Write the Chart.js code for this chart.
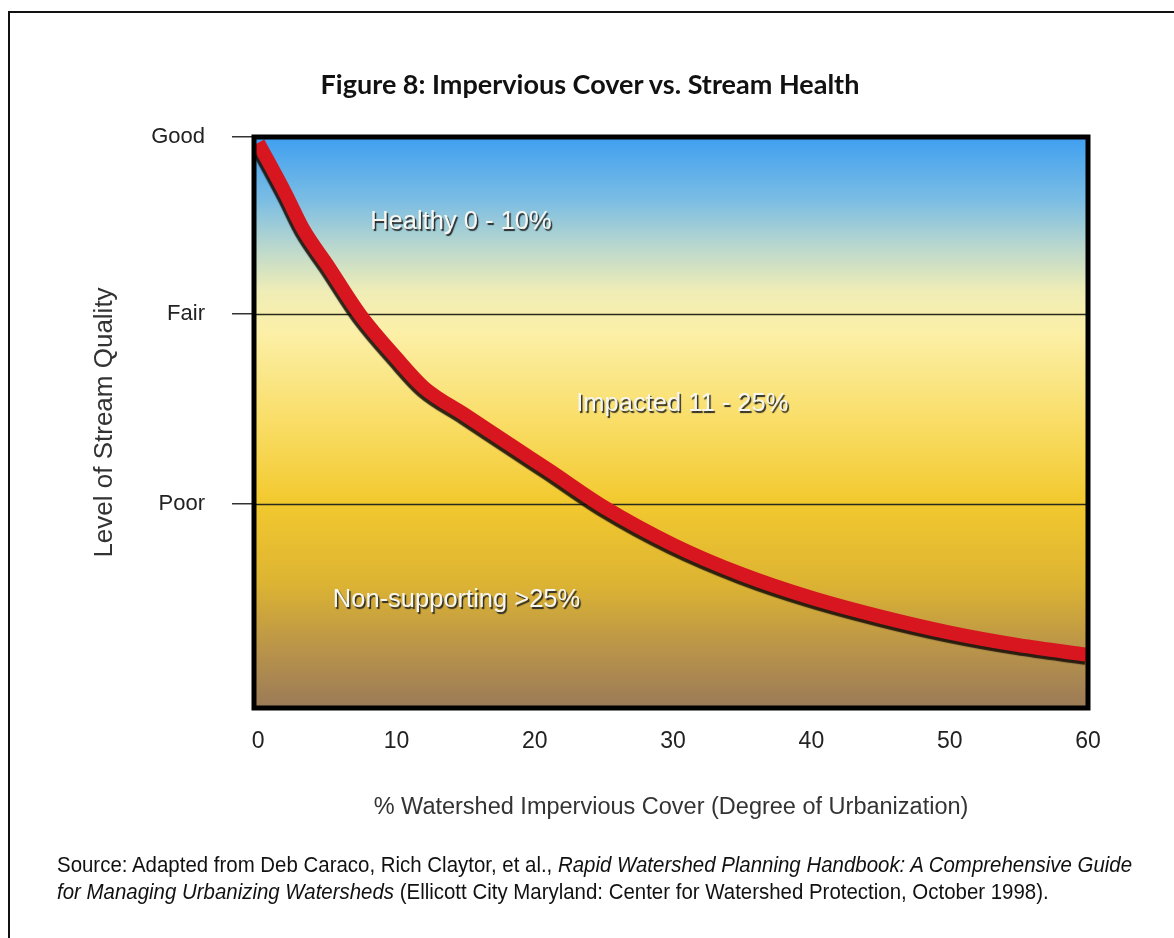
<!DOCTYPE html>
<html>
<head>
<meta charset="utf-8">
<script src="https://cdn.jsdelivr.net/npm/chart.js@4.4.1/dist/chart.umd.min.js"></script>
<style>
  html, body { margin: 0; padding: 0; background: #fff; }
  body { width: 1174px; height: 938px; position: relative; overflow: hidden; }
  #frame { position: absolute; left: 8px; top: 11px; width: 1200px; height: 1000px;
           border-left: 2px solid #111; border-top: 2px solid #111; }
  #title { position: absolute; left: 0; width: 1180px; top: 67px; text-align: center;
           font: bold 27px Lato, "Open Sans", sans-serif; color: #111; }
  #source { position: absolute; left: 57px; top: 851px; white-space: nowrap;
            font: 22px "Liberation Sans", Arial, sans-serif; line-height: 27px; color: #111;
            transform: scaleX(0.929); transform-origin: 0 0; }
  canvas { position: absolute; left: 0; top: 0; }
</style>
</head>
<body>
<div id="frame"></div>
<canvas id="streamChart" width="1174" height="938"></canvas>
<div id="title">Figure 8: Impervious Cover vs. Stream Health</div>
<div id="source">Source: Adapted from Deb Caraco, Rich Claytor, et al., <i>Rapid Watershed Planning Handbook: A Comprehensive Guide</i><br><i>for Managing Urbanizing Watersheds</i> (Ellicott City Maryland: Center for Watershed Protection, October 1998).</div>
<script>
// data (quality: 0 = bottom of plot, 100 = Good)
const impervious = [0, 2, 3.3, 5, 7.4, 10, 12, 15, 18.8, 21, 25, 30, 35, 40, 45, 50, 55, 60];
const quality = [99, 90, 83.7, 77.6, 68.8, 61.3, 56.1, 51.3, 45.2, 41.7, 35.2, 28.6, 23.4, 19.3, 16.0, 13.2, 11.0, 9.3];

const xTicks = [0, 10, 20, 30, 40, 50, 60];
const yTickValues = [35.7, 69.0, 100];
const yTickLabels = ['Poor', 'Fair', 'Good'];

const zoneNames = ['Healthy 0 - 10%', 'Impacted 11 - 25%', 'Non-supporting >25%'];
const zoneX = [8.1, 23.0, 5.4];
const zoneY = [85.1, 53.2, 18.9];

const sans = '"Liberation Sans", Arial, sans-serif';

const backdrop = {
  id: 'backdrop',
  beforeDatasetsDraw(chart) {
    const { ctx, chartArea: a } = chart;
    const g = ctx.createLinearGradient(0, a.top, 0, a.bottom);
    g.addColorStop(0, '#3f9ff0');
    g.addColorStop(0.11, '#7abde4');
    g.addColorStop(0.2, '#bfdacb');
    g.addColorStop(0.27, '#efedb6');
    g.addColorStop(0.34, '#fcf0a8');
    g.addColorStop(0.5, '#f9dd66');
    g.addColorStop(0.64, '#f2c92e');
    g.addColorStop(0.78, '#ddb432');
    g.addColorStop(0.9, '#b8934a');
    g.addColorStop(1, '#9b7a58');
    ctx.save();
    ctx.fillStyle = g;
    ctx.fillRect(a.left, a.top, a.right - a.left, a.bottom - a.top);
    ctx.restore();
  }
};

// grid lines must sit on top of the gradient, so draw them here
const zones = {
  id: 'zones',
  beforeDatasetsDraw(chart) {
    const { ctx, chartArea: a, scales } = chart;
    ctx.save();
    ctx.strokeStyle = '#2a2a1a';
    ctx.lineWidth = 1.5;
    yTickValues.forEach(v => {
      const y = Math.round(scales.y.getPixelForValue(v)) + 0.5;
      ctx.beginPath();
      ctx.moveTo(a.left, y);
      ctx.lineTo(a.right, y);
      ctx.stroke();
    });
    ctx.font = '25.5px ' + sans;
    ctx.textBaseline = 'middle';
    ctx.fillStyle = '#f6f6f2';
    ctx.shadowColor = 'rgba(35,35,35,0.95)';
    ctx.shadowOffsetX = 1.5;
    ctx.shadowOffsetY = 2;
    ctx.shadowBlur = 1;
    zoneNames.forEach((t, i) => {
      ctx.fillText(t, scales.x.getPixelForValue(zoneX[i]), scales.y.getPixelForValue(zoneY[i]));
    });
    ctx.restore();
  }
};

const lineShadow = {
  id: 'lineShadow',
  beforeDatasetDraw(chart) {
    const ctx = chart.ctx;
    ctx.save();
    ctx.shadowColor = 'rgba(25,15,10,0.9)';
    ctx.shadowOffsetX = -2;
    ctx.shadowOffsetY = 3;
    ctx.shadowBlur = 1;
  },
  afterDatasetDraw(chart) {
    chart.ctx.restore();
  }
};

const frame = {
  id: 'frame',
  afterDatasetsDraw(chart) {
    const { ctx, chartArea: a } = chart;
    ctx.save();
    ctx.strokeStyle = '#000';
    ctx.lineWidth = 5;
    ctx.strokeRect(a.left, a.top, a.right - a.left, a.bottom - a.top);
    ctx.restore();
  }
};

new Chart(document.getElementById('streamChart'), {
  type: 'line',
  data: {
    datasets: [{
      data: impervious.map((x, i) => ({ x, y: quality[i] })),
      borderColor: '#d8161f',
      borderWidth: 14,
      pointRadius: 0,
      cubicInterpolationMode: 'monotone',
      borderCapStyle: 'butt'
    }]
  },
  options: {
    responsive: false,
    animation: false,
    layout: { padding: { top: 137, right: 86, bottom: 110, left: 80 } },
    plugins: {
      legend: { display: false },
      tooltip: { enabled: false }
    },
    scales: {
      x: {
        type: 'linear',
        min: -0.3,
        max: 60,
        afterBuildTicks: s => { s.ticks = xTicks.map(v => ({ value: v })); },
        afterFit: s => { s.height = 120; },
        grid: { display: false, drawTicks: false },
        border: { display: false },
        ticks: { padding: 20, color: '#222', font: { family: sans, size: 23 } },
        title: {
          display: true,
          text: '% Watershed Impervious Cover (Degree of Urbanization)',
          color: '#333',
          font: { family: sans, size: 23.5 },
          padding: { top: 0, bottom: 6 }
        }
      },
      y: {
        type: 'linear',
        min: 0,
        max: 100,
        afterBuildTicks: s => { s.ticks = yTickValues.map(v => ({ value: v })); },
        afterFit: s => { s.width = 174; },
        grid: { drawOnChartArea: false, tickLength: 22, tickColor: '#333', lineWidth: 1.5 },
        border: { display: false },
        ticks: {
          padding: 27,
          color: '#222',
          font: { family: sans, size: 22 },
          callback: v => yTickLabels[yTickValues.indexOf(v)]
        },
        title: {
          display: true,
          text: 'Level of Stream Quality',
          color: '#333',
          font: { family: sans, size: 26 },
          padding: { top: 9, bottom: 0 }
        }
      }
    }
  },
  plugins: [backdrop, zones, lineShadow, frame]
});
</script>
</body>
</html>
